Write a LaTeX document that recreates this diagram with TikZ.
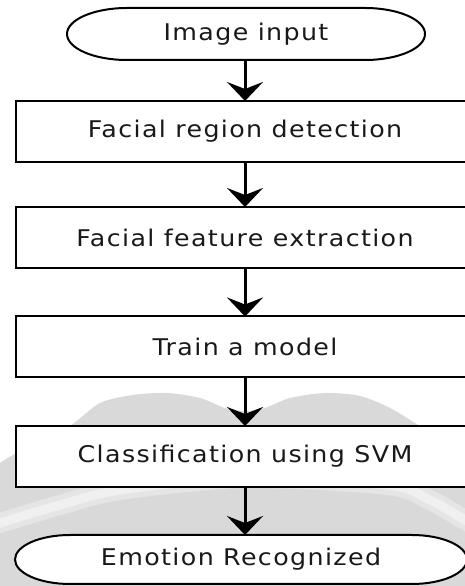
\documentclass[tikz,border=0pt]{standalone}
\usepackage{fontspec}
\newfontfamily\labelfont{DejaVu Sans}[FakeStretch=1.1,LetterSpace=6]
\usetikzlibrary{arrows.meta}
\pgfdeclarelayer{wm}
\pgfdeclarelayer{under}
\pgfsetlayers{wm,under,main}

\begin{document}
\begin{tikzpicture}[x=1pt,y=1pt,
  txt/.style={font=\labelfont\fontsize{23pt}{26pt}\selectfont, text=black!90},
  stepbox/.style={txt, draw=black, line width=2pt, fill=white,
    minimum width=458pt, minimum height=61pt, inner sep=0pt, outer sep=0pt},
  termbox/.style={txt, inner sep=0pt, outer sep=0pt},
  outline/.style={draw=black, line width=2pt, fill=white},
  flow/.style={line width=3pt, -{Stealth[length=19pt,width=36pt,inset=7pt]}},
  wmfill/.style={fill=black!15},
]
\useasboundingbox (0,0) rectangle (465,586);

% faint background mark
\begin{pgfonlayer}{wm}
  \begin{scope}
    \clip (0,0) rectangle (465,586);
    \path[wmfill] plot[smooth] coordinates {(-30,96) (0,123) (40,146) (70,160)
      (100,183) (133,191) (167,193) (200,188) (225,178) (245,175) (265,178)
      (290,188) (325,193) (360,190) (390,178) (420,160) (450,144) (480,121)}
      -- (480,-10) -- (-30,-10) -- cycle;
    \draw[black!10, line width=20pt] plot[smooth] coordinates {(-20,55) (0,63) (60,81)
      (120,96) (245,108) (388,101) (430,86) (465,66) (485,55)};
    \draw[black!6, line width=9pt] plot[smooth] coordinates {(-20,55) (0,63) (60,81)
      (120,96) (245,108) (388,101) (430,86) (465,66) (485,55)};
  \end{scope}
\end{pgfonlayer}

% process steps
\node[termbox, minimum width=358pt, minimum height=52pt] (start) at (246,552) {Image input};
\node[stepbox] (detect)  at (245,454.5) {Facial region detection};
\node[stepbox] (extract) at (245,348.5) {Facial feature extraction};
\node[stepbox] (train)   at (245,239)   {Train a model};
\node[stepbox] (classify) at (245,129.5) {Classification using SVM};
\node[termbox, minimum width=452pt, minimum height=49pt] (result) at (241,26.5) {Emotion Recognized};

% terminal outlines with elliptical ends
\begin{pgfonlayer}{under}
  \path[outline] ([xshift=60pt]start.north west) -- ([xshift=-60pt]start.north east)
    arc[start angle=90,end angle=-90,x radius=60pt,y radius=26pt]
    -- ([xshift=60pt]start.south west)
    arc[start angle=270,end angle=90,x radius=60pt,y radius=26pt] -- cycle;
  \path[outline] ([xshift=55pt]result.north west) -- ([xshift=-55pt]result.north east)
    arc[start angle=90,end angle=-90,x radius=55pt,y radius=24.5pt]
    -- ([xshift=55pt]result.south west)
    arc[start angle=270,end angle=90,x radius=55pt,y radius=24.5pt] -- cycle;
\end{pgfonlayer}

% connectors
\draw[flow] (start.south -| detect.north) -- (detect.north);
\draw[flow] (detect.south) -- (extract.north);
\draw[flow] (extract.south) -- (train.north);
\draw[flow] (train.south) -- (classify.north);
\draw[flow] (classify.south) -- (classify.south |- result.north);
\end{tikzpicture}
\end{document}
